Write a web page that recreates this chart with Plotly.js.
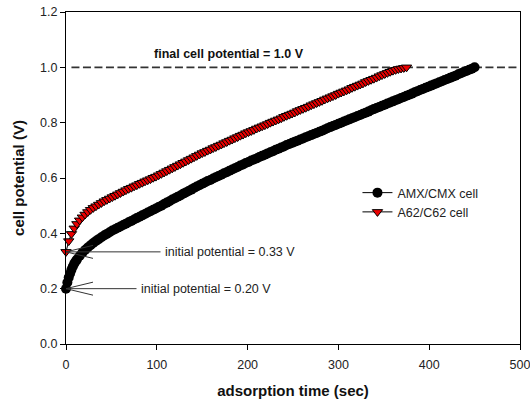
<!DOCTYPE html>
<html>
<head>
<meta charset="utf-8">
<script src="https://cdn.plot.ly/plotly-3.0.1.min.js"></script>
<style>
  html, body { margin: 0; padding: 0; background: #fff; }
  #chart { width: 530px; height: 399px; }
</style>
</head>
<body>
<div id="chart"></div>
<script>
// ---- data ----
const seriesNames = ["AMX/CMX cell", "A62/C62 cell"];

// AMX/CMX cell: adsorption time (s) and cell potential (V)
const amxTime = [
  0,1.5,3,4.5,6,7.5,9,10.5,12,15,18,21,24,27,30,33,36,39,42,45,48,51,54,57,60,63,66,69,72,75,78,81,84,87,90,93,96,99,
  102,105,108,111,114,117,120,123,126,129,132,135,138,141,144,147,150,153,156,159,162,165,168,171,174,177,
  180,183,186,189,192,195,198,201,204,207,210,213,216,219,222,225,228,231,234,237,240,243,246,249,252,255,
  258,261,264,267,270,273,276,279,282,285,288,291,294,297,300,303,306,309,312,315,318,321,324,327,330,333,
  336,339,342,345,348,351,354,357,360,363,366,369,372,375,378,381,384,387,390,393,396,399,402,405,408,411,
  414,417,420,423,426,429,432,435,438,441,444,447,450
];
const amxPotential = [
  0.200,0.222,0.240,0.255,0.268,0.280,0.290,0.298,0.305,0.318,0.330,0.340,0.349,0.357,0.365,0.372,0.379,0.386,0.392,0.398,0.404,0.410,
  0.415,0.420,0.425,0.430,0.435,0.440,0.445,0.450,0.455,0.460,0.465,0.470,0.475,0.480,0.485,0.490,
  0.495,0.500,0.506,0.511,0.516,0.522,0.527,0.532,0.537,0.543,0.548,0.553,0.558,0.564,0.569,0.574,0.579,
  0.584,0.589,0.593,0.598,0.603,0.607,0.612,0.617,0.621,0.626,0.631,0.635,0.640,0.645,0.649,0.654,0.658,
  0.663,0.667,0.671,0.676,0.680,0.684,0.689,0.693,0.697,0.702,0.706,0.710,0.714,0.719,0.723,0.727,0.731,
  0.735,0.739,0.743,0.747,0.751,0.755,0.759,0.763,0.767,0.771,0.775,0.780,0.784,0.788,0.792,0.796,0.800,
  0.804,0.808,0.812,0.816,0.820,0.824,0.828,0.832,0.836,0.840,0.845,0.849,0.853,0.857,0.861,0.865,0.869,
  0.873,0.877,0.881,0.885,0.889,0.893,0.897,0.901,0.905,0.910,0.914,0.918,0.922,0.926,0.930,0.934,0.938,
  0.942,0.946,0.950,0.954,0.958,0.962,0.966,0.970,0.975,0.979,0.983,0.987,0.991,0.995,1.000
];

// A62/C62 cell: adsorption time (s) and cell potential (V)
const a62Time = [
  0,3,6,9,12,15,18,21,24,27,30,33,36,39,42,45,48,51,54,57,60,63,66,69,72,75,78,81,84,87,90,93,96,99,
  102,105,108,111,114,117,120,123,126,129,132,135,138,141,144,147,150,153,156,159,162,165,168,171,174,177,
  180,183,186,189,192,195,198,201,204,207,210,213,216,219,222,225,228,231,234,237,240,243,246,249,252,255,
  258,261,264,267,270,273,276,279,282,285,288,291,294,297,300,303,306,309,312,315,318,321,324,327,330,333,
  336,339,342,345,348,351,354,357,360,363,366,369,372,375
];
const a62Potential = [
  0.333,0.372,0.398,0.418,0.434,0.447,0.458,0.468,0.477,0.485,0.492,0.498,0.504,0.510,0.516,0.521,0.526,0.531,
  0.536,0.541,0.546,0.551,0.556,0.561,0.565,0.570,0.574,0.579,0.583,0.588,0.592,0.596,0.601,0.605,
  0.610,0.615,0.620,0.625,0.630,0.635,0.640,0.645,0.650,0.655,0.660,0.665,0.670,0.675,0.680,0.685,0.690,
  0.694,0.699,0.703,0.708,0.712,0.717,0.721,0.726,0.730,0.735,0.739,0.744,0.748,0.753,0.757,0.762,0.766,
  0.770,0.774,0.779,0.783,0.787,0.791,0.795,0.800,0.804,0.808,0.812,0.816,0.821,0.825,0.829,0.833,0.837,
  0.842,0.846,0.850,0.854,0.858,0.863,0.867,0.871,0.875,0.879,0.884,0.888,0.892,0.896,0.900,0.905,0.909,
  0.913,0.917,0.921,0.926,0.930,0.934,0.938,0.942,0.947,0.951,0.955,0.959,0.963,0.968,0.972,0.976,0.980,
  0.984,0.988,0.991,0.994,0.996,0.998,1.000
];

const finalPotential = 1.0;
const xTickVals = [0, 100, 200, 300, 400, 500];
const yTickVals = [0.0, 0.2, 0.4, 0.6, 0.8, 1.0, 1.2];

const xTitle = "adsorption time (sec)";
const yTitle = "cell potential (V)";
const finalLabel = "final cell potential = 1.0 V";
const initLabelAmx = "initial potential = 0.20 V";
const initLabelA62 = "initial potential = 0.33 V";

// ---- chart ----
const FONT = "Liberation Sans, Arial, sans-serif";

const traces = [
  {
    x: amxTime, y: amxPotential, name: seriesNames[0],
    type: "scatter", mode: "lines+markers", cliponaxis: false,
    line: { color: "#000", width: 1 },
    marker: { symbol: "circle", size: 10, color: "#000", line: { color: "#000", width: 0 } }
  },
  {
    x: a62Time, y: a62Potential, name: seriesNames[1],
    type: "scatter", mode: "lines+markers", cliponaxis: false,
    line: { color: "#000", width: 1 },
    marker: { symbol: "triangle-down", size: 9, color: "rgb(235,0,0)", line: { color: "#000", width: 1 } }
  }
];

function barbs(x, y) {
  const common = { type: "line", xref: "x", yref: "y", xsizemode: "pixel", ysizemode: "pixel",
                   xanchor: x, yanchor: y, line: { color: "#333", width: 1 }, layer: "above" };
  return [
    Object.assign({}, common, { x0: 0, y0: 0, x1: 27, y1: 6.5 }),
    Object.assign({}, common, { x0: 0, y0: 0, x1: 27, y1: -6.5 })
  ];
}

const layout = {
  width: 530, height: 399,
  margin: { l: 66, r: 10, t: 12, b: 55 },
  paper_bgcolor: "#fff", plot_bgcolor: "#fff",
  font: { family: FONT, size: 12.5, color: "#222" },
  showlegend: true,
  legend: {
    x: 0.642, y: 0.50, xanchor: "left", yanchor: "top",
    bgcolor: "rgba(0,0,0,0)", font: { family: FONT, size: 12.5, color: "#222" },
    itemwidth: 30, tracegroupgap: 0
  },
  xaxis: {
    range: [0, 500], tickvals: xTickVals, ticktext: xTickVals.map(String),
    showline: true, mirror: true, linecolor: "#000", linewidth: 1,
    ticks: "outside", ticklen: 5, tickcolor: "#000", tickwidth: 1,
    showgrid: false, zeroline: false, ticklabelstandoff: 4, ticklabeloverflow: "allow",
    tickfont: { family: FONT, size: 12.5, color: "#222" },
    title: { text: "<b>" + xTitle + "</b>", font: { family: FONT, size: 15, color: "#111" }, standoff: 15 }
  },
  yaxis: {
    range: [0, 1.2], tickvals: yTickVals, ticktext: yTickVals.map(v => v.toFixed(1)),
    showline: true, mirror: true, linecolor: "#000", linewidth: 1,
    ticks: "outside", ticklen: 5, tickcolor: "#000", tickwidth: 1,
    showgrid: false, zeroline: false, ticklabeloverflow: "allow",
    tickfont: { family: FONT, size: 12.5, color: "#222" },
    title: { text: "<b>" + yTitle + "</b>", font: { family: FONT, size: 15, color: "#111" }, standoff: 11 }
  },
  shapes: [
    { type: "line", xref: "paper", yref: "y", x0: 0.012, x1: 0.993, y0: finalPotential, y1: finalPotential,
      line: { color: "#333", width: 1.6, dash: "8px,3.5px" }, layer: "below" }
  ].concat(barbs(amxTime[0], amxPotential[0]), barbs(a62Time[0], a62Potential[0])),
  annotations: [
    { text: "<b>" + finalLabel + "</b>", xref: "paper", yref: "y", x: 0.359, y: finalPotential,
      yshift: 13, showarrow: false, font: { family: FONT, size: 12.5, color: "#111" } },
    { text: initLabelA62, xref: "x", yref: "y", x: a62Time[0], y: a62Potential[0],
      showarrow: true, ax: 164, ay: 0, arrowhead: 0, arrowwidth: 1, arrowcolor: "#333",
      borderpad: 4, font: { family: FONT, size: 12.5, color: "#222" } },
    { text: initLabelAmx, xref: "x", yref: "y", x: amxTime[0], y: amxPotential[0],
      showarrow: true, ax: 140, ay: 0, arrowhead: 0, arrowwidth: 1, arrowcolor: "#333",
      borderpad: 4, font: { family: FONT, size: 12.5, color: "#222" } }
  ]
};

Plotly.newPlot("chart", traces, layout, { displayModeBar: false, staticPlot: true });
</script>
</body>
</html>
